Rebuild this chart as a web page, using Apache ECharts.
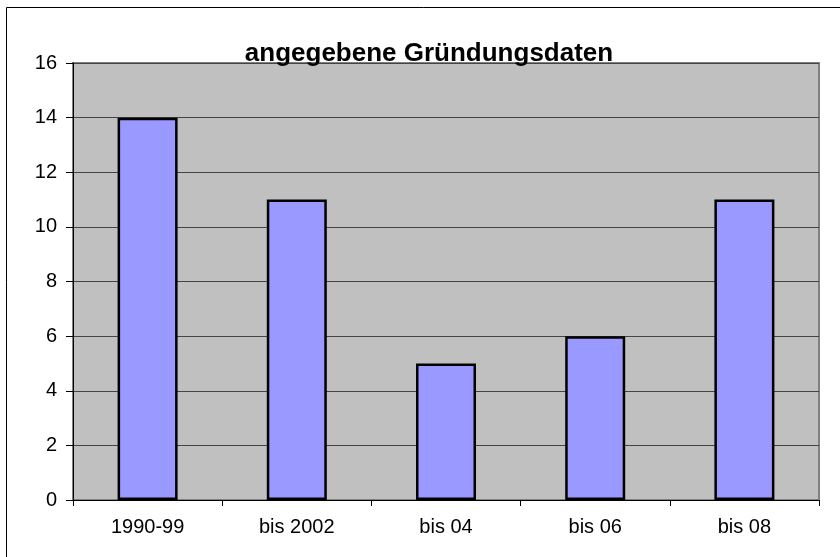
<!DOCTYPE html>
<html>
<head>
<meta charset="utf-8">
<script src="https://cdn.jsdelivr.net/npm/echarts@6/dist/echarts.min.js"></script>
<style>
  html, body { margin: 0; padding: 0; background: #fff; }
  #chart { width: 840px; height: 557px; }
</style>
</head>
<body>
<div id="chart"></div>
<script>
// Werte
const categories = ['1990-99', 'bis 2002', 'bis 04', 'bis 06', 'bis 08'];
const counts = [14, 11, 5, 6, 11];
const titleText = 'angegebene Gründungsdaten';

const chart = echarts.init(document.getElementById('chart'));

const option = {
  animation: false,
  backgroundColor: '#fff',
  textStyle: { fontFamily: 'Liberation Sans, Arial, sans-serif' },
  title: {
    text: titleText,
    left: 424,
    textAlign: 'center',
    top: 36,
    textStyle: { fontSize: 26, fontWeight: 'bold', color: '#000', fontFamily: 'Liberation Sans, Arial, sans-serif' }
  },
  // Rahmen um das ganze Diagramm
  graphic: [{
    type: 'rect',
    shape: { x: 6.5, y: 7.5, width: 900, height: 600 },
    style: { fill: 'none', stroke: '#000', lineWidth: 1 },
    z: 100
  }],
  grid: {
    left: 73, right: 21, top: 63, bottom: 57,
    show: true,
    backgroundColor: '#c0c0c0',
    borderColor: '#808080',
    borderWidth: 2
  },
  xAxis: {
    type: 'category',
    data: categories,
    axisLine: { lineStyle: { color: '#000', width: 1 } },
    axisTick: { show: true, length: 6, lineStyle: { color: '#000' } },
    axisLabel: { color: '#000', fontSize: 20, margin: 17 }
  },
  yAxis: {
    type: 'value',
    min: 0, max: 16, interval: 2,
    axisLine: { show: true, lineStyle: { color: '#000', width: 1 } },
    axisTick: { show: true, length: 7, lineStyle: { color: '#000' } },
    axisLabel: { color: '#000', fontSize: 20, margin: 16 },
    splitLine: { lineStyle: { color: '#444', width: 1 } }
  },
  series: [{
    type: 'bar',
    data: counts,
    barWidth: 60,
    itemStyle: { color: '#9999ff', borderColor: '#000', borderWidth: 2.5 }
  }]
};

chart.setOption(option);
</script>
</body>
</html>
